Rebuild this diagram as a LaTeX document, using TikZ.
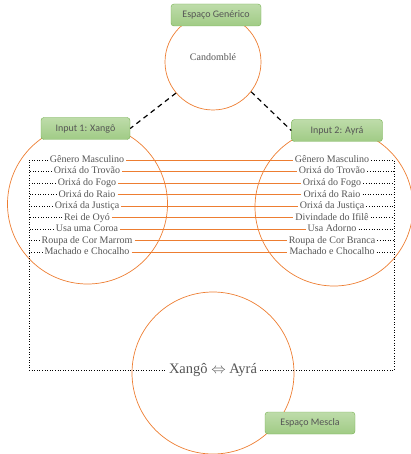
\documentclass[tikz,border=0pt]{standalone}
\usepackage{fontspec}
\setmainfont{Liberation Serif}
\newfontfamily\boxfont{Carlito}
\definecolor{LeafGreen}{RGB}{118, 176, 80}
\definecolor{PaleGreen}{RGB}{190, 220, 170}
\definecolor{SoftGreen}{RGB}{160, 203, 133}
\definecolor{Tangerine}{RGB}{237, 125, 49}
\definecolor{InkGray}{RGB}{85, 85, 85}
\usepackage{tikz}
\usetikzlibrary{positioning}

\begin{document}
\begin{tikzpicture}[x=1pt, y=-1pt,
        spacebox/.style={draw=LeafGreen, top color=PaleGreen, bottom color=SoftGreen, rounded corners=3pt, minimum width=90pt, minimum height=22pt, font=\boxfont\fontsize{10}{11}\selectfont, text=InkGray},
        ring/.style={draw=Tangerine, circle, inner sep=0pt, line width=0.7pt},
        trait/.style={inner sep=2pt, text height=7pt, text depth=2pt, font=\fontsize{10}{11}\selectfont, text=InkGray},
        match/.style={draw=Tangerine, line width=0.8pt},
        bus/.style={draw=black, dotted, line width=0.6pt}]
    \useasboundingbox (0,0) rectangle (411,454);

    % circles
    \node[ring, minimum size=96pt] (generic) at (213,62) {};
    \node[ring, minimum size=160pt] (xangocirc) at (87.5,204) {};
    \node[ring, minimum size=158pt] (ayracirc) at (334,207) {};
    \node[ring, minimum size=162pt] (blendcirc) at (213,373) {};

    \node[text=InkGray, font=\fontsize{10}{12}\selectfont] (candomble) at (213,57) {Candomblé};

    % space labels
    \node[spacebox] (gen) at (216,15) {Espaço Genérico};
    \node[spacebox, minimum width=89pt] (in1) at (85.5,128.5) {Input 1: Xangô};
    \node[spacebox, minimum width=91pt] (in2) at (337,130.5) {Input 2: Ayrá};
    \node[spacebox] (mescla) at (310,423) {Espaço Mescla};

    \draw[line width=1.2pt, dash pattern=on 5pt off 4pt] (generic.220) -- (in1.east);
    \draw[line width=1.2pt, dash pattern=on 5pt off 4pt] (generic.322) -- (in2.west);

    % input 1
    \node[trait] (l1) at (87,160) {Gênero Masculino};
    \node[trait] (l2) at (87,171.5) {Orixá do Trovão};
    \node[trait] (l3) at (87,183) {Orixá do Fogo};
    \node[trait] (l4) at (87,194.5) {Orixá do Raio};
    \node[trait] (l5) at (87,206) {Orixá da Justiça};
    \node[trait] (l6) at (87,217.5) {Rei de Oyó};
    \node[trait] (l7) at (87,229) {Usa uma Coroa};
    \node[trait] (l8) at (87,240.5) {Roupa de Cor Marrom};
    \node[trait] (l9) at (87,252) {Machado e Chocalho};

    % input 2
    \node[trait] (r1) at (332,160) {Gênero Masculino};
    \node[trait] (r2) at (332,171.5) {Orixá do Trovão};
    \node[trait] (r3) at (332,183) {Orixá do Fogo};
    \node[trait] (r4) at (332,194.5) {Orixá do Raio};
    \node[trait] (r5) at (332,206) {Orixá da Justiça};
    \node[trait] (r6) at (332,217.5) {Divindade do Ifilê};
    \node[trait] (r7) at (332,229) {Usa Adorno};
    \node[trait] (r8) at (332,240.5) {Roupa de Cor Branca};
    \node[trait] (r9) at (332,252) {Machado e Chocalho};

    % cross-space mapping
    \draw[match] (l1.east) -- (r1.west);
    \draw[match] (l2.east) -- (r2.west);
    \draw[match] (l3.east) -- (r3.west);
    \draw[match] (l4.east) -- (r4.west);
    \draw[match] (l5.east) -- (r5.west);
    \draw[match] (l6.east) -- (r6.west);
    \draw[match] (l7.east) -- (r7.west);
    \draw[match] (l8.east) -- (r8.west);
    \draw[match] (l9.east) -- (r9.west);

    % blend
    \node[text=InkGray, font=\fontsize{14.5}{16}\selectfont, inner sep=2pt] (blend) at (213,370) {Xangô $\Leftrightarrow$ Ayrá};

    \coordinate (lbus) at (29,160);
    \coordinate (rbus) at (394,160);
    \draw[bus] (l1.west) -- (l1.west -| lbus) -- (lbus |- blend.west) -- (blend.west);
    \draw[bus] (l2.west) -- (l2.west -| lbus);
    \draw[bus] (l3.west) -- (l3.west -| lbus);
    \draw[bus] (l4.west) -- (l4.west -| lbus);
    \draw[bus] (l5.west) -- (l5.west -| lbus);
    \draw[bus] (l6.west) -- (l6.west -| lbus);
    \draw[bus] (l7.west) -- (l7.west -| lbus);
    \draw[bus] (l8.west) -- (l8.west -| lbus);
    \draw[bus] (l9.west) -- (l9.west -| lbus);
    \draw[bus] (r1.east) -- (r1.east -| rbus) -- (rbus |- blend.east) -- (blend.east);
    \draw[bus] (r2.east) -- (r2.east -| rbus);
    \draw[bus] (r3.east) -- (r3.east -| rbus);
    \draw[bus] (r4.east) -- (r4.east -| rbus);
    \draw[bus] (r5.east) -- (r5.east -| rbus);
    \draw[bus] (r6.east) -- (r6.east -| rbus);
    \draw[bus] (r7.east) -- (r7.east -| rbus);
    \draw[bus] (r8.east) -- (r8.east -| rbus);
    \draw[bus] (r9.east) -- (r9.east -| rbus);
\end{tikzpicture}
\end{document}
